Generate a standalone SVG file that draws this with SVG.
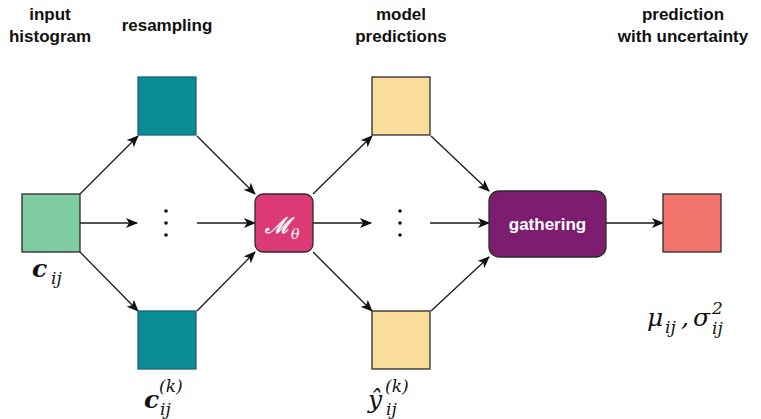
<svg xmlns="http://www.w3.org/2000/svg" width="761" height="419" viewBox="0 0 761 419">
  <style>
    .head { font-family: "Liberation Sans", Arial, sans-serif; font-weight: bold; font-size: 17px; fill: #111; text-anchor: middle; }
    .box { stroke: #2b2b2b; stroke-width: 1.3; }
    .edge { fill: none; stroke: #1a1a1a; stroke-width: 1.3; marker-end: url(#arrow); }
    .math { font-family: "DejaVu Serif", "Liberation Serif", serif; font-style: italic; fill: #111; }
    .big { font-size: 25px; }
    .sub { font-size: 17px; }
    .dot { fill: #111; }
  </style>
  <defs>
    <marker id="arrow" viewBox="0 0 12 10" refX="11" refY="5" markerWidth="12" markerHeight="10" markerUnits="userSpaceOnUse" orient="auto">
      <path d="M0,0 L12,5 L0,10 L3,5 Z" fill="#111"/>
    </marker>
  </defs>
  <rect width="761" height="419" fill="#fff"/>

  <!-- column headings -->
  <g id="headings">
    <text class="head" x="50" y="20">input</text>
    <text class="head" x="50" y="42">histogram</text>
    <text class="head" x="167" y="31">resampling</text>
    <text class="head" x="401" y="20">model</text>
    <text class="head" x="401" y="42">predictions</text>
    <text class="head" x="683" y="20">prediction</text>
    <text class="head" x="683" y="42">with uncertainty</text>
  </g>

  <!-- connectors -->
  <g id="connectors">
    <path class="edge" d="M80,194 L138,136"/>
    <path class="edge" d="M80,223 L137,223"/>
    <path class="edge" d="M80,252 L138,311"/>
    <path class="edge" d="M197,136 L255,194"/>
    <path class="edge" d="M197,223 L255,223"/>
    <path class="edge" d="M197,311 L255,252"/>
    <path class="edge" d="M313,194 L372,136"/>
    <path class="edge" d="M313,223 L371,223"/>
    <path class="edge" d="M313,252 L372,311"/>
    <path class="edge" d="M431,136 L489,191"/>
    <path class="edge" d="M430,223 L489,223"/>
    <path class="edge" d="M431,311 L489,257"/>
    <path class="edge" d="M606,223 L663,223"/>
  </g>

  <!-- ellipsis markers between branches -->
  <g id="ellipsis-resample">
    <circle class="dot" cx="166" cy="211" r="1.8"/>
    <circle class="dot" cx="166" cy="223" r="1.8"/>
    <circle class="dot" cx="166" cy="235" r="1.8"/>
  </g>
  <g id="ellipsis-predict">
    <circle class="dot" cx="400" cy="211" r="1.8"/>
    <circle class="dot" cx="400" cy="223" r="1.8"/>
    <circle class="dot" cx="400" cy="235" r="1.8"/>
  </g>

  <g id="input-hist">
    <rect class="box" x="22" y="194" width="58" height="58" fill="#7fcca1"/>
    <text class="math big" x="32" y="277" font-weight="bold">c</text>
    <text class="math sub" x="51" y="284">ij</text>
  </g>

  <g id="resample-top">
    <rect x="138" y="77" width="58" height="58" fill="#0b8c95" stroke="#17687a" stroke-width="1.3"/>
  </g>
  <g id="resample-bottom">
    <rect x="138" y="311" width="58" height="58" fill="#0b8c95" stroke="#17687a" stroke-width="1.3"/>
    <text class="math big" x="144" y="408" font-weight="bold">c</text>
    <text class="math sub" x="159" y="392">(k)</text>
    <text class="math sub" x="160" y="415">ij</text>
  </g>

  <g id="model">
    <rect class="box" x="255" y="194" width="58" height="58" rx="8" fill="#dc3a76"/>
    <text x="265" y="233" font-family="'DejaVu Serif', serif" font-style="italic" font-size="22" fill="#fff" stroke="#fff" stroke-width="0.5">ℳ</text>
    <text x="291" y="239" font-family="'DejaVu Serif', serif" font-style="italic" font-size="14" fill="#fff">θ</text>
  </g>

  <g id="pred-top">
    <rect class="box" x="372" y="77" width="58" height="58" fill="#fadd9b"/>
  </g>
  <g id="pred-bottom">
    <rect class="box" x="372" y="311" width="58" height="58" fill="#fadd9b"/>
    <text class="math big" x="368" y="408">ŷ</text>
    <text class="math sub" x="385" y="392">(k)</text>
    <text class="math sub" x="386" y="415">ij</text>
  </g>

  <g id="gathering">
    <rect class="box" x="489" y="191" width="117" height="66" rx="10" fill="#7c1d6f"/>
    <text x="547.5" y="230" font-family="'Liberation Sans', Arial, sans-serif" font-weight="bold" font-size="17" fill="#fff" text-anchor="middle">gathering</text>
  </g>

  <g id="output">
    <rect class="box" x="663" y="194" width="58" height="58" fill="#f0746c"/>
    <text class="math big" x="647" y="326">μ</text>
    <text class="math sub" x="665" y="333">ij</text>
    <text class="math big" x="681" y="326">,</text>
    <text class="math big" x="693" y="326">σ</text>
    <text class="math sub" x="712" y="314" font-style="normal">2</text>
    <text class="math sub" x="712" y="334">ij</text>
  </g>
</svg>
